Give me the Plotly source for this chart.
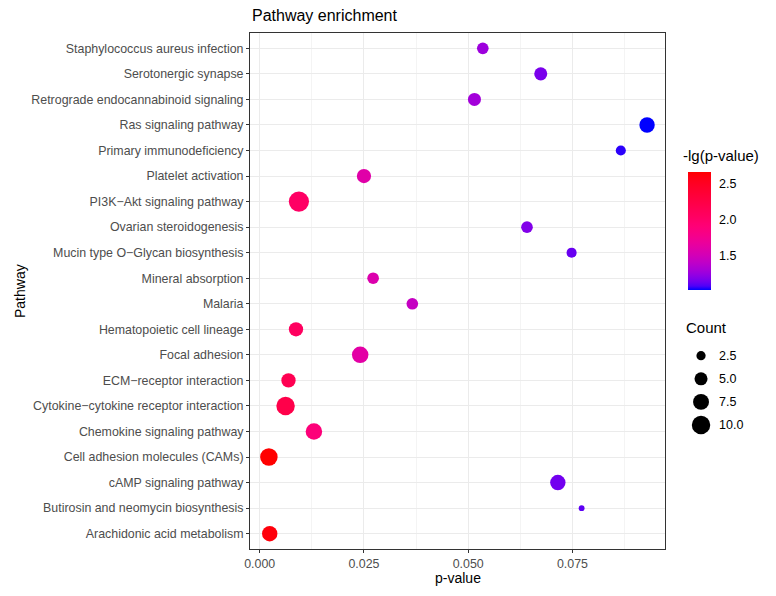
import math
import plotly.graph_objects as go

# ---------------- data ----------------
pathways = [
    "Staphylococcus aureus infection",
    "Serotonergic synapse",
    "Retrograde endocannabinoid signaling",
    "Ras signaling pathway",
    "Primary immunodeficiency",
    "Platelet activation",
    "PI3K\u2212Akt signaling pathway",
    "Ovarian steroidogenesis",
    "Mucin type O\u2212Glycan biosynthesis",
    "Mineral absorption",
    "Malaria",
    "Hematopoietic cell lineage",
    "Focal adhesion",
    "ECM\u2212receptor interaction",
    "Cytokine\u2212cytokine receptor interaction",
    "Chemokine signaling pathway",
    "Cell adhesion molecules (CAMs)",
    "cAMP signaling pathway",
    "Butirosin and neomycin biosynthesis",
    "Arachidonic acid metabolism",
]
p_values = [0.0535, 0.0674, 0.0515, 0.0929, 0.0866, 0.0250, 0.0094, 0.0641, 0.0748, 0.0272,
            0.0366, 0.0087, 0.0241, 0.0069, 0.0062, 0.0130, 0.0022, 0.0715, 0.0772, 0.0024]
neg_lg_p = [1.27, 1.17, 1.29, 1.03, 1.06, 1.60, 2.03, 1.19, 1.13, 1.57,
            1.44, 2.06, 1.62, 2.16, 2.21, 1.89, 2.66, 1.15, 1.11, 2.62]
counts = [4, 5, 5, 7, 3, 6, 12, 4, 3, 4,
          4, 6, 8, 6, 10, 8, 9, 7, 1, 7]

x_ticks = [0.0, 0.025, 0.05, 0.075]
x_tick_labels = ["0.000", "0.025", "0.050", "0.075"]
color_ticks = [1.5, 2.0, 2.5]
count_breaks = [2.5, 5.0, 7.5, 10.0]
count_labels = ["2.5", "5.0", "7.5", "10.0"]

# ---------------- colour scale (polar Lab interpolation blue -> red) ----------------
WHITE = (0.95047, 1.0, 1.08883)


def _lin(c):
    c = c / 255.0
    return c / 12.92 if c <= 0.04045 else ((c + 0.055) / 1.055) ** 2.4


def _delin(c):
    c = max(0.0, min(1.0, c))
    v = 12.92 * c if c <= 0.0031308 else 1.055 * c ** (1 / 2.4) - 0.055
    return max(0, min(255, round(v * 255)))


def _f(t):
    d = 6 / 29
    return t ** (1 / 3) if t > d ** 3 else t / (3 * d * d) + 4 / 29


def _finv(t):
    d = 6 / 29
    return t ** 3 if t > d else 3 * d * d * (t - 4 / 29)


def rgb2lab(rgb):
    r, g, b = (_lin(v) for v in rgb)
    X = 0.4124564 * r + 0.3575761 * g + 0.1804375 * b
    Y = 0.2126729 * r + 0.7151522 * g + 0.0721750 * b
    Z = 0.0193339 * r + 0.1191920 * g + 0.9503041 * b
    fx, fy, fz = _f(X / WHITE[0]), _f(Y / WHITE[1]), _f(Z / WHITE[2])
    return (116 * fy - 16, 500 * (fx - fy), 200 * (fy - fz))


def lab2rgb(lab):
    L, a, b = lab
    fy = (L + 16) / 116
    fx = fy + a / 500
    fz = fy - b / 200
    X, Y, Z = WHITE[0] * _finv(fx), WHITE[1] * _finv(fy), WHITE[2] * _finv(fz)
    r = 3.2404542 * X - 1.5371385 * Y - 0.4985314 * Z
    g = -0.9692660 * X + 1.8760108 * Y + 0.0415560 * Z
    bb = 0.0556434 * X - 0.2040259 * Y + 1.0572252 * Z
    return tuple(_delin(v) for v in (r, g, bb))


def to_lch(lab):
    L, a, b = lab
    return L, math.hypot(a, b), math.degrees(math.atan2(b, a)) % 360


lo = to_lch(rgb2lab((0, 0, 255)))
hi = to_lch(rgb2lab((255, 0, 0)))
dh = hi[2] - lo[2]
if dh > 180:
    dh -= 360
elif dh < -180:
    dh += 360
n = 30
colorscale = []
for i in range(n + 1):
    t = i / n
    L = lo[0] + (hi[0] - lo[0]) * t
    C = lo[1] + (hi[1] - lo[1]) * t
    h = math.radians(lo[2] + dh * t)
    r, g, b = lab2rgb((L, C * math.cos(h), C * math.sin(h)))
    colorscale.append([t, f"rgb({r},{g},{b})"])

# ---------------- geometry ----------------
W, H = 776, 596
ML, MR, MT, MB = 250, 10, 33, 47
PW = W - ML - MR  # 516
PH = H - MT - MB  # 516
PLOT_RIGHT = 665


def px_x(p):
    return (p - ML) / PW


def px_y(p):
    return (H - MB - p) / PH


FONT = "Liberation Sans, Arial, sans-serif"
SIZEREF = 2 / 34

fig = go.Figure()

fig.add_trace(go.Scatter(
    x=p_values, y=pathways, mode="markers",
    marker=dict(
        size=counts, sizemode="area", sizeref=SIZEREF, line=dict(width=0), opacity=1,
        color=neg_lg_p, colorscale=colorscale, showscale=True,
        colorbar=dict(
            x=px_x(688), xanchor="left", xpad=0,
            y=px_y(231), yanchor="middle", ypad=0,
            lenmode="pixels", len=118, thickness=23, outlinewidth=0,
            tickvals=color_ticks, ticktext=[f"{v:.1f}" for v in color_ticks],
            ticks="outside", ticklen=6, tickcolor="rgba(0,0,0,0)", tickwidth=1,
            tickfont=dict(size=12.5, color="black", family=FONT),
        ),
    ),
    showlegend=False, xaxis="x", yaxis="y",
))

# size legend on its own small axes
fig.add_trace(go.Scatter(
    x=[0.278] * len(count_breaks), y=list(range(len(count_breaks))), mode="markers",
    marker=dict(size=count_breaks, sizemode="area", sizeref=SIZEREF, color="black",
                line=dict(width=0), opacity=1),
    showlegend=False, hoverinfo="skip", xaxis="x2", yaxis="y2",
))

annotations = [
    dict(text="Pathway enrichment", xref="paper", yref="paper", x=0, y=px_y(16),
         xanchor="left", yanchor="middle", showarrow=False,
         font=dict(size=16, color="black", family=FONT)),
    dict(text="p-value", xref="paper", yref="paper", x=px_x((ML + PLOT_RIGHT) / 2), y=px_y(578),
         xanchor="center", yanchor="middle", showarrow=False,
         font=dict(size=14, color="black", family=FONT)),
    dict(text="Pathway", xref="paper", yref="paper", x=px_x(20), y=px_y(291), textangle=-90,
         xanchor="center", yanchor="middle", showarrow=False,
         font=dict(size=14, color="black", family=FONT)),
    dict(text="-lg(p-value)", xref="paper", yref="paper", x=px_x(683), y=px_y(155),
         xanchor="left", yanchor="middle", showarrow=False, xshift=-2,
         font=dict(size=15, color="black", family=FONT)),
    dict(text="Count", xref="paper", yref="paper", x=px_x(686), y=px_y(327),
         xanchor="left", yanchor="middle", showarrow=False, xshift=-2,
         font=dict(size=15, color="black", family=FONT)),
]
for i, lab in enumerate(count_labels):
    annotations.append(dict(text=lab, xref="x2", yref="y2", x=0.478, y=i,
                            xanchor="left", yanchor="middle", showarrow=False, xshift=-2,
                            font=dict(size=12.5, color="black", family=FONT)))

fig.update_layout(
    width=W, height=H,
    margin=dict(l=ML, r=MR, t=MT, b=MB),
    paper_bgcolor="white", plot_bgcolor="white",
    font=dict(family=FONT),
    annotations=annotations,
    xaxis=dict(
        domain=[0, (PLOT_RIGHT - ML) / PW], anchor="y",
        range=[-0.00233, 0.0972],
        tickvals=x_ticks, ticktext=x_tick_labels,
        tickfont=dict(size=12.4, color="#4D4D4D", family=FONT),
        ticks="outside", ticklen=3, tickcolor="#333333", tickwidth=1,
        showgrid=True, gridcolor="#EBEBEB", gridwidth=1,
        minor=dict(dtick=0.0125, tick0=0, showgrid=True, gridcolor="#F4F4F4", gridwidth=1),
        showline=True, linecolor="#333333", linewidth=1, mirror=True,
        zeroline=False, fixedrange=True,
    ),
    yaxis=dict(
        domain=[0, 1], anchor="x",
        type="category", categoryorder="array", categoryarray=pathways[::-1],
        range=[-0.6, len(pathways) - 0.4],
        tickfont=dict(size=12.4, color="#4D4D4D", family=FONT),
        ticks="outside", ticklen=3, tickcolor="#333333", tickwidth=1,
        showgrid=True, gridcolor="#EBEBEB", gridwidth=1,
        showline=True, linecolor="#333333", linewidth=1, mirror=True,
        zeroline=False, fixedrange=True,
    ),
    xaxis2=dict(domain=[px_x(676), px_x(766)], anchor="y2", range=[0, 1], visible=False, fixedrange=True),
    yaxis2=dict(domain=[px_y(440), px_y(340)], anchor="x2", range=[3.65, -0.68], visible=False, fixedrange=True),
)

fig.write_html("out.html", config={"displayModeBar": False},
               post_script="document.body.style.margin='0px';")
